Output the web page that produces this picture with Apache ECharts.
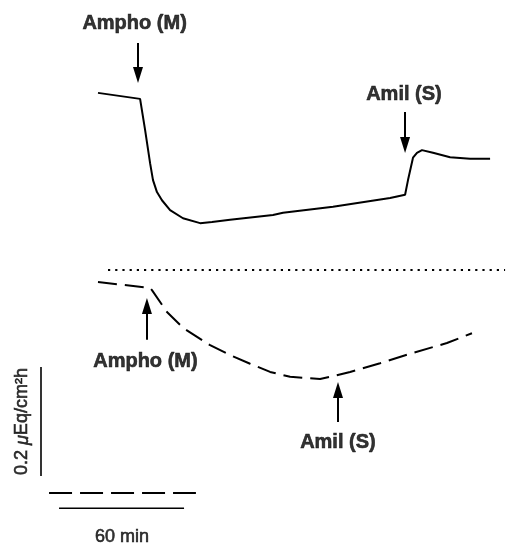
<!DOCTYPE html>
<html>
<head>
<meta charset="utf-8">
<script src="https://cdn.jsdelivr.net/npm/echarts@6/dist/echarts.min.js"></script>
<style>
html,body{margin:0;padding:0;background:#fff;}
#chart{width:509px;height:546px;}
</style>
</head>
<body>
<div id="chart"></div>
<script>
// Time in minutes, current in μEq/cm²h (dotted line = 0)
const topTime    = [0, 20.2, 21.1, 22.6, 25.0, 26.4, 28.3, 30.7, 34.6, 40.8, 49.0, 54.7, 63.4, 84.0, 88.8, 112.8, 140.2, 147.4, 148.8, 151.2, 153.1, 155.5, 160.8, 169.0, 178.6, 188.2];
const topCurrent = [0.325, 0.314, 0.312, 0.257, 0.196, 0.165, 0.143, 0.128, 0.110, 0.095, 0.086, 0.088, 0.092, 0.101, 0.105, 0.116, 0.132, 0.138, 0.165, 0.206, 0.215, 0.220, 0.215, 0.207, 0.204, 0.204];

const bottomTime    = [0, 25.0, 25.9, 33.1, 40.8, 53.8, 63.4, 73.0, 82.6, 92.2, 106.6, 111.4, 121.0, 135.4, 151.2, 167.5, 179.5];
const bottomCurrent = [-0.022, -0.033, -0.037, -0.077, -0.106, -0.138, -0.156, -0.172, -0.187, -0.196, -0.200, -0.196, -0.187, -0.171, -0.152, -0.134, -0.116];

const zeroLineTime = [4.8, 195.4];
const zeroLineValue = 0;

// annotations: text, text position (t, v), arrow from (t, v1) to (t, v2)
const annoText  = ['Ampho (M)', 'Amil (S)', 'Ampho (M)', 'Amil (S)'];
const annoTextT = [17.8, 147.1, 23.0, 115.4];
const annoTextV = [0.452, 0.321, -0.169, -0.3165];
const arrowT    = [19.2, 147.4, 23.5, 115.2];
const arrowFrom = [0.4165, 0.290, -0.128, -0.279];
const arrowTo   = [0.3578, 0.2294, -0.0661, -0.2202];

// scale bars
const scaleCurrent = 0.2;   // μEq/cm²h
const scaleTime = 60;       // min
const vBarT = -27.36, vBarTop = -0.178;
const hBarT0 = -18.7, hBarV = -0.437;
const dashBarT = [-23.5, 47.0], dashBarV = -0.409;
const scaleLabelMin = '60 min';
const scaleLabelMinPos = [11.8, -0.490];
const scaleLabelCur = '0.2 μEq/cm²h';
const scaleLabelCurPos = [-36.0, -0.279];

const chart = echarts.init(document.getElementById('chart'));
const FONT = '"Liberation Sans", Arial, sans-serif';

const zip = (a, b) => a.map((x, i) => [x, b[i]]);
const labelBase = {
  show: true, position: [0, 0], align: 'center', verticalAlign: 'middle',
  color: '#000', textBorderColor: '#000', textBorderWidth: 0.6, fontFamily: FONT
};

const option = {
  animation: false,
  backgroundColor: '#fff',
  grid: {left: 0, right: 0, top: 0, bottom: 0, containLabel: false},
  xAxis: {type: 'value', min: -47.04, max: 197.28, show: false},
  yAxis: {type: 'value', min: -0.5064, max: 0.4954, show: false},
  series: [
    {
      type: 'line', data: zip(topTime, topCurrent), symbol: 'none',
      lineStyle: {color: '#000', width: 2}
    },
    {
      type: 'line', data: zip(bottomTime, bottomCurrent), symbol: 'none',
      lineStyle: {color: '#000', width: 2, type: [19, 8]}
    },
    {
      type: 'line', data: zeroLineTime.map(t => [t, zeroLineValue]), symbol: 'none',
      lineStyle: {color: '#000', width: 2, type: [2.2, 5]}
    },
    // scale bars
    {
      type: 'line', data: [[vBarT, vBarTop], [vBarT, vBarTop - scaleCurrent]], symbol: 'none',
      lineStyle: {color: '#000', width: 1.6}
    },
    {
      type: 'line', data: [[hBarT0, hBarV], [hBarT0 + scaleTime, hBarV]], symbol: 'none',
      lineStyle: {color: '#000', width: 1.6}
    },
    {
      type: 'line', data: dashBarT.map(t => [t, dashBarV]), symbol: 'none',
      lineStyle: {color: '#000', width: 2, type: [23, 8]}
    },
    // arrows
    {
      type: 'line', data: [], symbol: 'none',
      markLine: {
        silent: true, animation: false,
        symbol: ['none', 'triangle'], symbolSize: [10, 16],
        label: {show: false},
        lineStyle: {color: '#000', width: 2, type: 'solid'},
        data: arrowT.map((t, i) => [{coord: [t, arrowFrom[i]]}, {coord: [t, arrowTo[i]]}])
      }
    },
    // annotation labels
    {
      type: 'scatter', symbolSize: 1, silent: true, itemStyle: {color: 'rgba(0,0,0,0)'},
      data: annoText.map((s, i) => ({name: s, value: [annoTextT[i], annoTextV[i]]})),
      label: Object.assign({}, labelBase, {formatter: p => p.name, fontSize: 20, fontWeight: 'bold'})
    },
    {
      type: 'scatter', symbolSize: 1, silent: true, itemStyle: {color: 'rgba(0,0,0,0)'},
      data: [{name: scaleLabelMin, value: scaleLabelMinPos}],
      label: Object.assign({}, labelBase, {formatter: p => p.name, fontSize: 18})
    },
    {
      type: 'scatter', symbolSize: 1, silent: true, itemStyle: {color: 'rgba(0,0,0,0)'},
      data: [{name: scaleLabelCur, value: scaleLabelCurPos}],
      label: Object.assign({}, labelBase, {
        rotate: 90, fontSize: 18,
        formatter: p => p.name.replace('μ', '{it|μ}'),
        rich: {it: {fontStyle: 'italic', fontFamily: FONT, fontSize: 18, color: '#000', textBorderColor: '#000', textBorderWidth: 0.6}}
      })
    }
  ]
};
chart.setOption(option);
</script>
</body>
</html>
